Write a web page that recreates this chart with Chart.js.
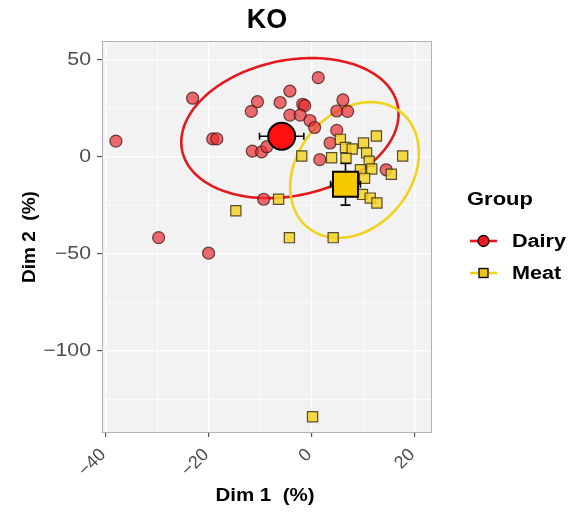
<!DOCTYPE html>
<html>
<head>
<meta charset="utf-8">
<script src="https://cdn.jsdelivr.net/npm/chart.js@4.4.0/dist/chart.umd.min.js"></script>
<style>
  html, body { margin: 0; padding: 0; background: #fff; }
</style>
</head>
<body>
<canvas id="pcaChart" width="569" height="512"></canvas>
<script>
// data (Dim 1 / Dim 2, %)
var groups = ['Dairy', 'Meat'];
var dairyX = [-38.1, -23.2, -19.3, -18.5, -10.6, -11.8, -11.6, -9.8, -8.8, -6.2, -4.3, -1.8, -1.4, 1.2,
              -4.3, -2.3, -0.4, 0.5, 6.0, 4.8, 6.9, 4.8, 3.5, 1.5, 14.4, -29.8, -20.1, -9.4];
var dairyY = [8.2, 30.3, 9.3, 9.3, 28.5, 23.5, 3.0, 2.6, 5.3, 28.1, 34.0, 27.2, 26.5, 40.9,
              21.6, 21.6, 18.8, 15.2, 29.4, 23.7, 23.5, 13.7, 7.2, -1.4, -6.6, -41.6, -49.6, -21.8];
var meatX = [-14.8, -6.5, -4.4, 4.1, 0.1, -2.0, 3.8, 5.5, 6.5, 7.8, 10.0, 10.6, 12.5, 17.6,
             6.6, 11.1, 9.4, 11.6, 10.2, 9.8, 11.3, 12.6, 15.4];
var meatY = [-27.7, -21.8, -41.6, -41.6, -133.9, 0.5, -0.4, 9.1, 4.9, 4.1, 7.2, 2.1, 10.8, 0.5,
             -0.8, -2.2, -6.6, -6.2, -11.0, -19.3, -21.2, -23.7, -8.9];

// group means with error bars
var centroidX = [-5.9, 6.5];
var centroidY = [10.7, -14.0];
var centroidErrX = [4.3, 2.9];
var centroidErrY = [4.0, 10.8];

// confidence ellipses: centre, spread on each axis, correlation
var ellipseCx = [-4.3, 8.25];
var ellipseCy = [14.9, -6.7];
var ellipseSx = [21.1, 12.5];
var ellipseSy = [36.1, 35.0];
var ellipseR = [0.2, 0.25];

var xTickLabels = [-40, -20, 0, 20];
var yTickLabels = [50, 0, -50, -100];

var lineColors = ['#e3191c', '#f0d21c'];
var FONT = '"Liberation Sans", Arial, Helvetica, sans-serif';
var WIDE = 1.18; // text in the source is a bit wider than Arial

function pts(xs, ys) {
  return xs.map(function (x, i) { return { x: x, y: ys[i] }; });
}
function minus(v) {
  return v < 0 ? '\u2212' + Math.abs(v) : String(v);
}
function isLabelled(list, v) {
  return list.indexOf(v) !== -1;
}
function wideText(c, txt, x, y, sx, rot) {
  c.save();
  c.translate(x, y);
  c.scale(sx, 1);
  if (rot) c.rotate(rot);
  c.fillText(txt, 0, 0);
  c.restore();
}

var pcaPlugin = {
  id: 'pcaExtras',
  beforeDraw: function (chart) {
    var a = chart.chartArea, c = chart.ctx;
    c.save();
    c.fillStyle = '#f2f2f2';
    c.fillRect(a.left, a.top, a.right - a.left, a.bottom - a.top);
    c.restore();
  },
  beforeDatasetsDraw: function (chart) {
    var a = chart.chartArea, c = chart.ctx;
    var xs = chart.scales.x, ys = chart.scales.y;
    c.save();
    c.strokeStyle = '#b3b3b3';
    c.lineWidth = 1;
    c.strokeRect(a.left + 0.5, a.top + 0.5, a.right - a.left - 1, a.bottom - a.top - 1);
    c.beginPath();
    c.rect(a.left, a.top, a.right - a.left, a.bottom - a.top);
    c.clip();
    for (var g = 0; g < groups.length; g++) {
      c.beginPath();
      var r = ellipseR[g], q = Math.sqrt(1 - r * r);
      for (var k = 0; k <= 180; k++) {
        var t = k / 180 * 2 * Math.PI;
        var ex = ellipseCx[g] + ellipseSx[g] * Math.cos(t);
        var ey = ellipseCy[g] + ellipseSy[g] * (r * Math.cos(t) + q * Math.sin(t));
        var px = xs.getPixelForValue(ex), py = ys.getPixelForValue(ey);
        if (k === 0) c.moveTo(px, py); else c.lineTo(px, py);
      }
      c.closePath();
      c.strokeStyle = lineColors[g];
      c.lineWidth = 2.6;
      c.stroke();
    }
    c.restore();
  },
  beforeDatasetDraw: function (chart, args) {
    var g = chart.data.datasets[args.index].centroidOf;
    if (g === undefined) return;
    var c = chart.ctx, xs = chart.scales.x, ys = chart.scales.y;
    var cx = xs.getPixelForValue(centroidX[g]), cy = ys.getPixelForValue(centroidY[g]);
    var x0 = xs.getPixelForValue(centroidX[g] - centroidErrX[g]);
    var x1 = xs.getPixelForValue(centroidX[g] + centroidErrX[g]);
    var y0 = ys.getPixelForValue(centroidY[g] - centroidErrY[g]);
    var y1 = ys.getPixelForValue(centroidY[g] + centroidErrY[g]);
    c.save();
    c.strokeStyle = '#000';
    c.lineWidth = 1.6;
    c.beginPath();
    c.moveTo(x0, cy); c.lineTo(x1, cy);
    c.moveTo(x0, cy - 3.5); c.lineTo(x0, cy + 3.5);
    c.moveTo(x1, cy - 3.5); c.lineTo(x1, cy + 3.5);
    c.moveTo(cx, y0); c.lineTo(cx, y1);
    c.moveTo(cx - 5, y0); c.lineTo(cx + 5, y0);
    c.moveTo(cx - 5, y1); c.lineTo(cx + 5, y1);
    c.stroke();
    c.restore();
  },
  afterDraw: function (chart) {
    var c = chart.ctx, a = chart.chartArea;
    var xs = chart.scales.x, ys = chart.scales.y;
    var i;
    c.save();
    // tick labels
    c.fillStyle = '#4d4d4d';
    c.font = '18px ' + FONT;
    c.textAlign = 'right';
    c.textBaseline = 'middle';
    for (i = 0; i < yTickLabels.length; i++) {
      wideText(c, minus(yTickLabels[i]), 91, ys.getPixelForValue(yTickLabels[i]), WIDE);
    }
    for (i = 0; i < xTickLabels.length; i++) {
      wideText(c, minus(xTickLabels[i]), xs.getPixelForValue(xTickLabels[i]) - 3, 452, 1, -Math.PI / 4);
    }
    // title
    c.fillStyle = '#000';
    c.textAlign = 'center';
    c.font = 'bold 27px ' + FONT;
    c.fillText('KO', (a.left + a.right) / 2, 21);
    // axis titles
    c.font = 'bold 19px ' + FONT;
    wideText(c, 'Dim 1  (%)', (a.left + a.right) / 2 - 2, 496, 1.08);
    c.save();
    c.translate(30, (a.top + a.bottom) / 2);
    c.rotate(-Math.PI / 2);
    c.fillText('Dim 2  (%)', 0, 0);
    c.restore();
    // legend
    c.textAlign = 'left';
    c.font = 'bold 18px ' + FONT;
    wideText(c, 'Group', 467, 200, 1.22);
    var keyY = [241, 273];
    for (var g = 0; g < groups.length; g++) {
      var y = keyY[g];
      c.strokeStyle = lineColors[g];
      c.lineWidth = 2.6;
      c.beginPath(); c.moveTo(470, y); c.lineTo(497, y); c.stroke();
      c.strokeStyle = '#000';
      c.lineWidth = 1.3;
      if (g === 0) {
        c.fillStyle = '#ee1c1c';
        c.beginPath(); c.arc(483.5, y, 5.5, 0, 2 * Math.PI); c.fill(); c.stroke();
      } else {
        c.fillStyle = '#e9c21a';
        c.fillRect(479, y - 4.5, 9, 9); c.strokeRect(479, y - 4.5, 9, 9);
      }
      c.fillStyle = '#000';
      wideText(c, groups[g], 512, y + 1, 1.2);
    }
    c.restore();
  }
};

var ctx = document.getElementById('pcaChart').getContext('2d');
var pcaChart = new Chart(ctx, {
  type: 'scatter',
  data: {
    datasets: [
      {
        label: 'Dairy mean', centroidOf: 0, order: 0,
        data: [{ x: centroidX[0], y: centroidY[0] }],
        pointStyle: 'circle', pointRadius: 13.5,
        backgroundColor: '#ff1010', borderColor: '#000', borderWidth: 2
      },
      {
        label: 'Meat mean', centroidOf: 1, order: 0,
        data: [{ x: centroidX[1], y: centroidY[1] }],
        pointStyle: 'rect', pointRadius: 17.7,
        backgroundColor: '#f5c800', borderColor: '#000', borderWidth: 2
      },
      {
        label: 'Meat', order: 1,
        data: pts(meatX, meatY),
        pointStyle: 'rect', pointRadius: 7.2,
        backgroundColor: 'rgba(246,212,40,0.85)', borderColor: 'rgba(60,50,20,0.85)', borderWidth: 1.2
      },
      {
        label: 'Dairy', order: 2,
        data: pts(dairyX, dairyY),
        pointStyle: 'circle', pointRadius: 6,
        backgroundColor: 'rgba(232,45,50,0.7)', borderColor: 'rgba(60,20,20,0.75)', borderWidth: 1.2
      }
    ]
  },
  options: {
    responsive: false,
    animation: false,
    devicePixelRatio: 1,
    layout: { padding: { top: 41, right: 137, left: 0, bottom: 0 } },
    plugins: {
      legend: { display: false },
      tooltip: { enabled: false }
    },
    scales: {
      x: {
        type: 'linear',
        min: -40.8, max: 23.3,
        afterFit: function (scale) { scale.height = 79; },
        border: { display: false },
        grid: {
          color: '#ffffff',
          lineWidth: function (c) { return isLabelled(xTickLabels, c.tick.value) ? 1.3 : 0.7; },
          tickColor: function (c) { return isLabelled(xTickLabels, c.tick.value) ? '#333333' : 'rgba(0,0,0,0)'; },
          tickLength: 4,
          tickWidth: 1
        },
        ticks: { stepSize: 10, includeBounds: false, autoSkip: false, display: false }
      },
      y: {
        type: 'linear',
        min: -142.3, max: 59.8,
        afterFit: function (scale) { scale.width = 102; },
        border: { display: false },
        grid: {
          color: '#ffffff',
          lineWidth: function (c) { return isLabelled(yTickLabels, c.tick.value) ? 1.3 : 0.7; },
          tickColor: function (c) { return isLabelled(yTickLabels, c.tick.value) ? '#333333' : 'rgba(0,0,0,0)'; },
          tickLength: 5,
          tickWidth: 1
        },
        ticks: { stepSize: 25, includeBounds: false, autoSkip: false, display: false }
      }
    }
  },
  plugins: [pcaPlugin]
});
</script>
</body>
</html>
